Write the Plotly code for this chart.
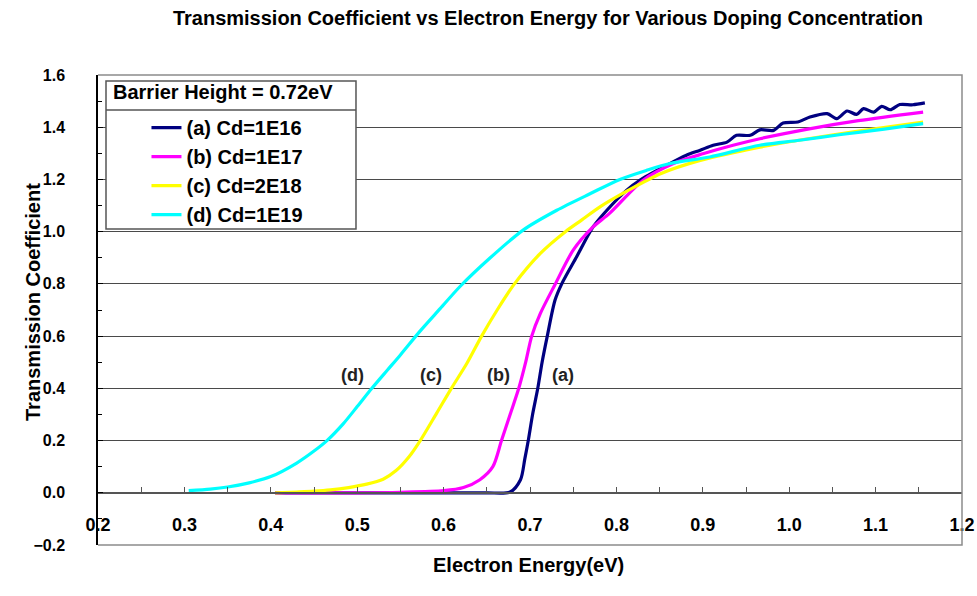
import plotly.graph_objects as go

# Electron energy (eV) and transmission coefficient for each doping level
energy_a = [0.405, 0.45, 0.5, 0.55, 0.6, 0.65, 0.677, 0.689, 0.694, 0.698, 0.703, 0.709,
            0.714, 0.72, 0.729, 0.737, 0.754, 0.773, 0.789, 0.812, 0.827, 0.858, 0.881,
            0.897, 0.912, 0.928, 0.939, 0.955, 0.966, 0.982, 0.993, 1.01, 1.024, 1.044,
            1.055, 1.067, 1.078, 1.086, 1.098, 1.107, 1.117, 1.128, 1.143, 1.157]
trans_a = [0.0, 0.0, 0.0, 0.0, 0.0, 0.0, 0.003, 0.05, 0.13, 0.2, 0.3, 0.4,
           0.5, 0.6, 0.738, 0.802, 0.904, 1.018, 1.082, 1.159, 1.197, 1.254, 1.293,
           1.312, 1.331, 1.343, 1.369, 1.369, 1.39, 1.388, 1.416, 1.42, 1.439, 1.452,
           1.433, 1.462, 1.449, 1.471, 1.458, 1.48, 1.467, 1.487, 1.486, 1.493]

energy_b = [0.405, 0.45, 0.5, 0.55, 0.6, 0.623, 0.642, 0.657, 0.667, 0.677, 0.687, 0.695,
            0.702, 0.712, 0.729, 0.75, 0.773, 0.792, 0.831, 0.866, 0.901, 0.935, 0.966,
            1.02, 1.08, 1.155]
trans_b = [0.0, 0.0, 0.0, 0.002, 0.008, 0.02, 0.05, 0.1, 0.2, 0.3, 0.4, 0.5,
           0.6, 0.687, 0.798, 0.929, 1.018, 1.07, 1.197, 1.261, 1.299, 1.331, 1.356,
           1.392, 1.425, 1.458]

energy_c = [0.405, 0.43, 0.45, 0.469, 0.49, 0.511, 0.53, 0.545, 0.56, 0.573, 0.592, 0.609,
            0.627, 0.644, 0.662, 0.682, 0.712, 0.741, 0.76, 0.781, 0.812, 0.851, 0.897,
            0.966, 1.02, 1.08, 1.155]
trans_c = [0.0, 0.003, 0.006, 0.011, 0.02, 0.033, 0.052, 0.085, 0.138, 0.2, 0.305, 0.4,
           0.496, 0.6, 0.7, 0.8, 0.917, 1.0, 1.045, 1.095, 1.155, 1.222, 1.273,
           1.324, 1.355, 1.385, 1.42]

energy_d = [0.305, 0.33, 0.35, 0.375, 0.40, 0.43, 0.45, 0.465, 0.484, 0.50, 0.517, 0.535,
            0.55, 0.573, 0.596, 0.619, 0.654, 0.692, 0.731, 0.77, 0.804, 0.835, 0.862,
            0.908, 0.966, 1.012, 1.06, 1.11, 1.155]
trans_d = [0.008, 0.014, 0.022, 0.038, 0.062, 0.114, 0.16, 0.2, 0.265, 0.33, 0.4, 0.47,
           0.528, 0.62, 0.705, 0.79, 0.9, 1.006, 1.082, 1.146, 1.2, 1.235, 1.261,
           1.286, 1.331, 1.35, 1.372, 1.393, 1.414]

series_names = ["(a) Cd=1E16", "(b) Cd=1E17", "(c) Cd=2E18", "(d) Cd=1E19"]
series_colors = ["#000080", "#FF00FF", "#FFFF00", "#00FFFF"]
curve_tags = ["(a)", "(b)", "(c)", "(d)"]
tag_energy = [0.738, 0.664, 0.585, 0.494]
tag_level = 0.45

FONT = "Liberation Sans, Arial, sans-serif"

fig = go.Figure()
for xs, ys, name, color in zip([energy_a, energy_b, energy_c, energy_d],
                               [trans_a, trans_b, trans_c, trans_d],
                               series_names, series_colors):
    fig.add_trace(go.Scatter(x=xs, y=ys, name=name, mode="lines",
                             line=dict(color=color, width=3.2, shape="spline",
                                       smoothing=0.8)))

# curve tags next to each rising edge
for tag, ex in zip(curve_tags, tag_energy):
    fig.add_annotation(x=ex, y=tag_level, xref="x", yref="y", text=tag, showarrow=False,
                       font=dict(family=FONT, size=18, weight="bold", color="#222"))

# legend frame with its header row
lx0, lx1, ly0, ly1, lsep = 0.00926, 0.2986, 0.6723, 0.987, 0.9255
fig.add_shape(type="rect", xref="paper", yref="paper", x0=lx0, x1=lx1, y0=ly0, y1=ly1,
              line=dict(color="#555", width=1.5), fillcolor="white", layer="above")
fig.add_shape(type="line", xref="paper", yref="paper", x0=lx0, x1=lx1, y0=lsep, y1=lsep,
              line=dict(color="#555", width=1.5), layer="above")
fig.add_annotation(x=0.015, y=0.963, xref="paper", yref="paper", xanchor="left",
                   yanchor="middle", text="Barrier Height = 0.72eV", showarrow=False,
                   font=dict(family=FONT, size=20, weight="bold", color="black"))

# plot-area frame on top, right and bottom
fig.add_shape(type="path", xref="paper", yref="paper", path="M 0,0 L 1,0 L 1,1 L 0,1",
              line=dict(color="#8c8c8c", width=1.5), layer="above")

# axis titles
fig.add_annotation(x=0.4988, y=-0.0702, xref="paper", yref="paper", text="Electron Energy(eV)",
                   showarrow=False, font=dict(family=FONT, size=20, weight="bold", color="black"))
fig.add_annotation(x=-0.0903, y=0.517, xref="paper", yref="paper", text="Transmission Coefficient",
                   textangle=-90, showarrow=False,
                   font=dict(family=FONT, size=20, weight="bold", color="black"))

fig.update_xaxes(range=[0.2, 1.2], tick0=0.2, dtick=0.1, tickformat=".1f",
                 anchor="free", position=0.1106, showline=True, linecolor="#555",
                 linewidth=1.5, ticks="inside", ticklen=5, tickcolor="#555",
                 minor=dict(dtick=0.05, ticks="inside", ticklen=5, tickcolor="#555",
                            showgrid=False),
                 showgrid=False, zeroline=False, ticklabelstandoff=16, automargin=False,
                 tickfont=dict(family=FONT, size=18, weight="bold", color="black"))
fig.update_yaxes(range=[-0.2, 1.6], tick0=0, dtick=0.2, tickformat=".1f",
                 showline=True, linecolor="black", linewidth=1.5,
                 ticks="inside", ticklen=5, tickcolor="black",
                 minor=dict(dtick=0.1, ticks="inside", ticklen=4, tickcolor="black",
                            showgrid=False),
                 showgrid=True, gridcolor="#4a4a4a", gridwidth=1.2, zeroline=False,
                 ticklabelstandoff=28, automargin=False,
                 tickfont=dict(family=FONT, size=16, weight="bold", color="black"))

fig.update_layout(
    template="none",
    width=977, height=596,
    margin=dict(l=98, r=15, t=75, b=51),
    plot_bgcolor="white", paper_bgcolor="white",
    title=dict(text="Transmission Coefficient vs Electron Energy for Various Doping Concentration",
               x=0.5208, xref="paper", xanchor="center", y=0.97, yanchor="middle",
               font=dict(family=FONT, size=20, weight="bold", color="black")),
    showlegend=True,
    legend=dict(x=0.0561, y=0.9295, xanchor="left", yanchor="top",
                bgcolor="rgba(0,0,0,0)", borderwidth=0, tracegroupgap=0,
                font=dict(family=FONT, size=20, weight="bold", color="black")),
)

fig.write_html("out.html")
